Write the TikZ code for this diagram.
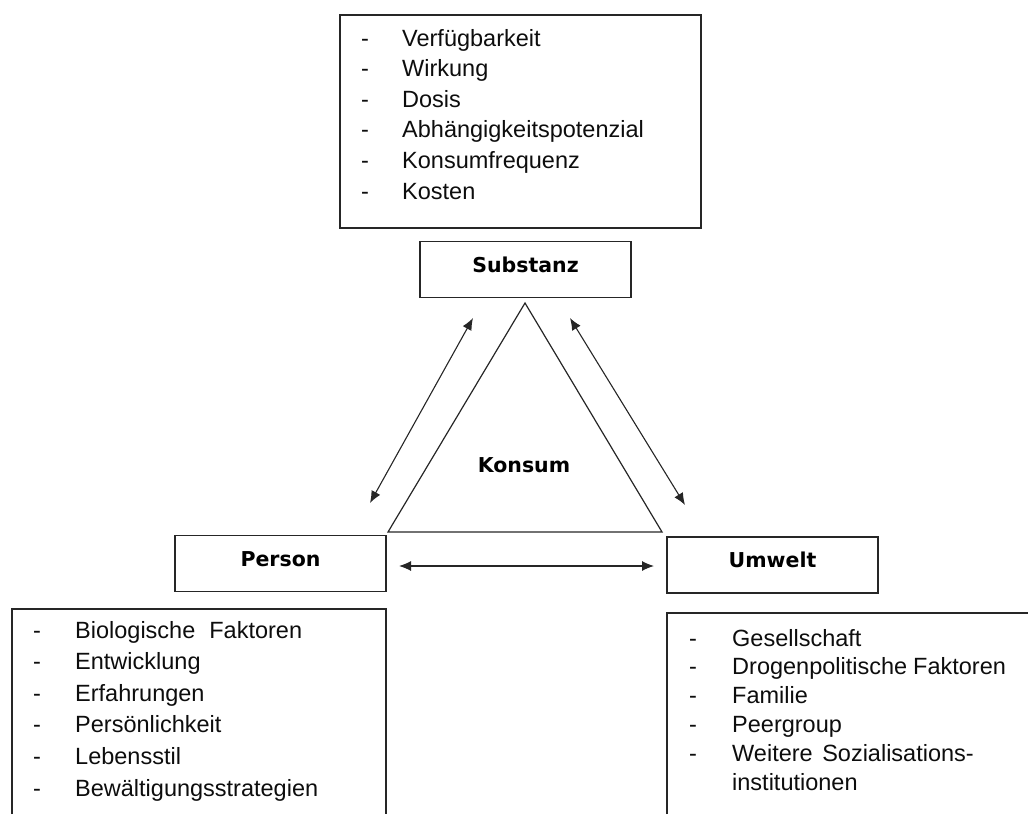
\documentclass[tikz,border=0pt]{standalone}
\usepackage{fontspec}
\setmainfont{Liberation Sans}
\newfontfamily\labfamily{DejaVu Sans}
\newcommand\labfnt{\labfamily\bfseries\fontsize{20.5}{24}\selectfont}
\newcommand\bodyfnt{\fontsize{23.5}{28}\selectfont}
\usetikzlibrary{arrows.meta}
\tikzset{
  frame/.style={draw=black!85, line width=1.2pt},
  box/.style={frame, rectangle, inner sep=0pt, minimum width=211pt, minimum height=56pt,
    text height=14pt, text depth=9pt, font=\labfnt, text=black},
  listtxt/.style={anchor=base west, inner sep=0pt, font=\bodyfnt, text=black!95},
  dashtxt/.style={anchor=base, inner sep=0pt, font=\bodyfnt, text=black!95},
  arr/.style={{Latex[length=12pt,width=10pt]}-{Latex[length=12pt,width=10pt]}, line width=1.1pt, draw=black!85}
}
\begin{document}
\begin{tikzpicture}[x=1pt,y=-1pt]
\path[use as bounding box] (0,0) rectangle (1028,814);

% top list box
\node[frame, rectangle, inner sep=0pt, minimum width=361pt, minimum height=213pt] (topbox) at (520.5,121.5) {};
\foreach \t [count=\i] in {Verfügbarkeit, Wirkung, Dosis, Abhängigkeitspotenzial, Konsumfrequenz, Kosten} {
  \node[dashtxt] (sd\i) at (365,{46+(\i-1)*30.6}) {-};
  \node[listtxt] (st\i) at (402,{46+(\i-1)*30.6}) {\t};
}

% main boxes
\node[box] (sub) at (525.5,269.5) {Substanz};
\node[box] (per) at (280.5,563.5) {Person};
\node[box] (umw) at (772.5,565) {Umwelt};

% triangle
\coordinate (tA) at (525,303);
\coordinate (tL) at (388,532);
\coordinate (tR) at (662,532);
\draw[frame] (tA) -- (tL) -- (tR) -- cycle;
\node[inner sep=0pt, anchor=base, font=\labfnt] (kon) at (524,472) {Konsum};

% arrows
\coordinate (l1) at (473,318);
\coordinate (l2) at (370,503);
\coordinate (r1) at (570,318);
\coordinate (r2) at (685,505);
\coordinate (h1) at (399,566);
\coordinate (h2) at (654,566);
\draw[arr] (l1) -- (l2);
\draw[arr] (r1) -- (r2);
\draw[arr] (h1) -- (h2);

% person list (open box)
\coordinate (pb1) at (12,814);
\coordinate (pb2) at (386,609);
\coordinate (pb3) at (386,814);
\draw[frame] (pb1) |- (pb2) -- (pb3);
\foreach \t [count=\i] in {Biologische\hspace{14pt}Faktoren, Entwicklung, Erfahrungen, Persönlichkeit, Lebensstil, Bewältigungsstrategien} {
  \node[dashtxt] (pd\i) at (37,{638+(\i-1)*31.6}) {-};
  \node[listtxt] (pt\i) at (75,{638+(\i-1)*31.6}) {\t};
}

% umwelt list (open box)
\coordinate (ub1) at (667,814);
\coordinate (ub2) at (1028,613);
\draw[frame] (ub1) |- (ub2);
\foreach \t [count=\i] in {Gesellschaft, Drogenpolitische\hspace{6pt}Faktoren, Familie, Peergroup, Weitere\hspace{3pt} Sozialisations-} {
  \node[dashtxt] (ud\i) at (693,{646+(\i-1)*28.8}) {-};
  \node[listtxt] (ut\i) at (732,{646+(\i-1)*28.8}) {\t};
}
\node[listtxt] (ut6) at (732,790) {institutionen};
\end{tikzpicture}
\end{document}
